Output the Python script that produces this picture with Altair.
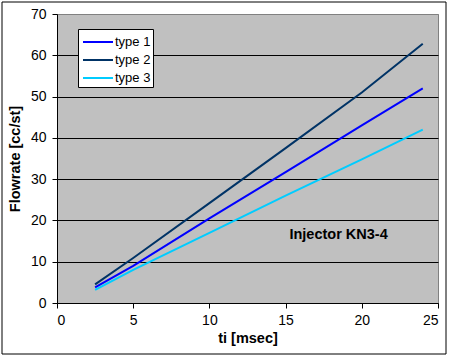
import altair as alt
import pandas as pd

# ---- data ----
ti = [2.5, 5, 10, 15, 20, 24]
type1 = [3.8, 9.0, 20.5, 31.7, 43.0, 52.0]
type2 = [4.5, 10.9, 24.2, 37.5, 51.0, 62.8]
type3 = [3.2, 8.0, 17.0, 26.0, 34.8, 42.0]
series_names = ["type 1", "type 2", "type 3"]
series_colors = ["#0000FF", "#003366", "#00CCFF"]

x_ticks = [0, 5, 10, 15, 20, 25]
y_ticks = [0, 10, 20, 30, 40, 50, 60, 70]

note_text = "Injector KN3-4"
note_x = 15.25
note_y = 16.5

rows = []
for name, vals in zip(series_names, [type1, type2, type3]):
    for t, v in zip(ti, vals):
        rows.append({"ti": t, "flow": v, "series": name})
df = pd.DataFrame(rows)

FONT = "Liberation Sans"

x_enc = alt.X(
    "ti:Q",
    scale=alt.Scale(domain=[0, 25], nice=False),
    axis=alt.Axis(
        values=x_ticks, title="ti [msec]", grid=False,
        tickSize=5, labelPadding=5, titlePadding=4,
    ),
)
y_enc = alt.Y(
    "flow:Q",
    scale=alt.Scale(domain=[0, 70], nice=False),
    axis=alt.Axis(
        values=y_ticks, title="Flowrate [cc/st]", grid=True,
        gridColor={"condition": {"test": "datum.value >= 70", "value": "#808080"}, "value": "black"},
        tickSize=5, labelPadding=6, titlePadding=8,
    ),
)

lines = alt.Chart(df).mark_line(strokeWidth=2).encode(
    x=x_enc,
    y=y_enc,
    color=alt.Color(
        "series:N",
        scale=alt.Scale(domain=series_names, range=series_colors),
        legend=alt.Legend(
            title=None,
            orient="none",
            legendX=21,
            legendY=15,
            symbolType="M-0.8,0H2.2",
            symbolSize=400,
            symbolStrokeWidth=2,
            labelOffset=13,
            rowPadding=0,
            padding=2,
            fillColor="white",
            strokeColor="black",
            labelFontSize=13,
            labelFont=FONT,
            labelColor="black",
        ),
    ),
    order="ti:Q",
)

note = alt.Chart(pd.DataFrame({"x": [note_x], "y": [note_y], "t": [note_text]})).mark_text(
    align="left", baseline="middle", font=FONT, fontSize=14.5, fontWeight="bold", color="black"
).encode(x="x:Q", y="y:Q", text="t:N")

border = alt.Chart(pd.DataFrame({"a": [0]})).mark_rect(
    fill=None, stroke="black", strokeWidth=1, clip=False
).encode(
    x=alt.value(-55), x2=alt.value(389), y=alt.value(-12), y2=alt.value(340)
)

chart = alt.layer(lines, note, border).properties(
    width=381,
    height=289,
    autosize=alt.AutoSizeParams(type="none"),
    padding={"left": 57, "top": 14, "right": 12, "bottom": 54},
    background="white",
).configure_view(
    fill="#C0C0C0", stroke="#808080", strokeWidth=1
).configure_axis(
    labelFont=FONT, labelFontSize=14, labelColor="black",
    titleFont=FONT, titleFontSize=14.5, titleFontWeight="bold", titleColor="black",
    domainColor="black", tickColor="black", domainWidth=1, tickWidth=1,
    gridWidth=1,
)

chart.save("out.html", embed_options={"renderer": "svg", "actions": False})
